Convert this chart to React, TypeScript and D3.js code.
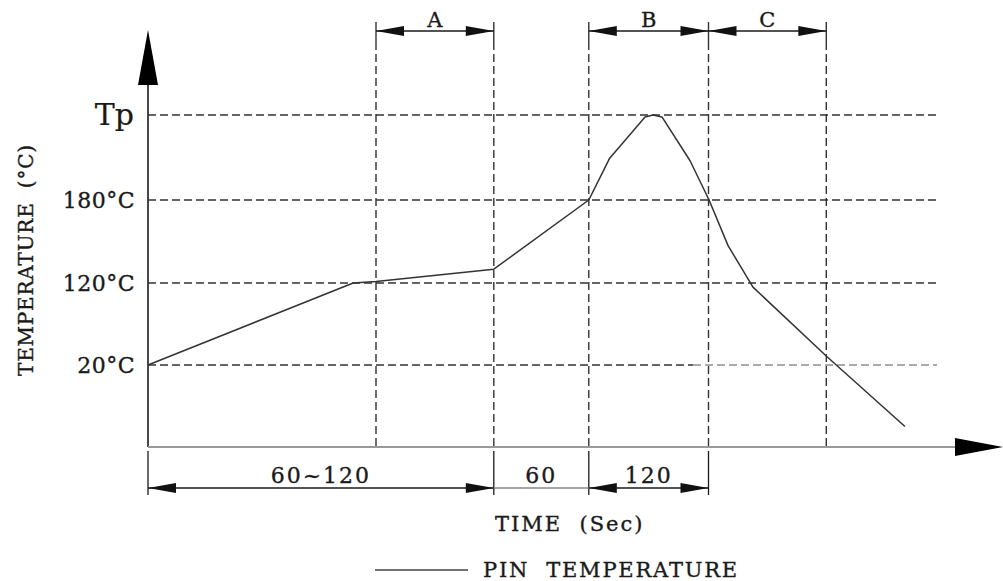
import React from "react";
import * as d3 from "d3";

// schematic time (s) and temperature (°C) of the pin-temperature profile
const profileTime = [0, 108, 120, 182, 232, 243, 261.6, 265.8, 270.5, 285.3, 295.3, 305.3, 318.4, 357.4, 398.4];
const profileTemp = [20, 120, 121, 130, 180, 212, 243.5, 245, 243.5, 210, 180, 147, 115, 30, 5];

// temperature levels shown on the y axis
const tempTicks = [20, 120, 180, 245];
const tempLabels = ["20°C", "120°C", "180°C", "Tp"];

// phase boundaries along the time axis
const markerTimes = [0, 120, 182, 232, 295, 357];

// top dimension brackets: [startMarker, endMarker, label]
const topSpans: [number, number, string][] = [
  [1, 2, "A"],
  [3, 4, "B"],
  [4, 5, "C"],
];
// bottom dimension brackets: [startMarker, endMarker, label, arrows]
const bottomSpans: [number, number, string, boolean][] = [
  [0, 2, "60~120", true],
  [2, 3, "60", false],
  [3, 4, "120", true],
];

const W = 1003;
const H = 581;
const FONT = "'DejaVu Serif', serif";

export default function App() {
  const x = d3.scaleLinear().domain([0, 450]).range([148, 1003]);
  const y = d3.scaleLinear().domain([0, 20, 120, 180, 245]).range([447, 365, 283, 200, 115]);

  const x0 = x(0);
  const y0 = y(0);
  const gridEnd = 937;
  const greyStart = 693;
  const topY = 31;
  const botY = 488;

  const line = d3
    .line<number>()
    .x((_, i) => x(profileTime[i]))
    .y((d) => y(d))
    .curve(d3.curveLinear);

  const arrow = (tipX: number, yy: number, dir: number, len = 28, half = 5) =>
    `M${tipX},${yy}L${tipX - dir * len},${yy - half}L${tipX - dir * len},${yy + half}Z`;

  const ink = "#1a1a1a";
  const dash = "8,4";
  const textStyle = { stroke: ink, strokeWidth: 0.35, whiteSpace: "pre" as const };

  return (
    <svg width={W} height={H} style={{ position: "absolute", left: 0, top: 0, background: "#fff" }}>
      <rect width={W} height={H} fill="#fff" />
      {/* horizontal dashed grid */}
      {tempTicks.map((t, i) =>
        t === 20 ? (
          <g key={i}>
            <line x1={x0} x2={greyStart} y1={y(t)} y2={y(t)} stroke="#333" strokeWidth={1.5} strokeDasharray={dash} />
            <line x1={greyStart} x2={gridEnd} y1={y(t)} y2={y(t)} stroke="#aaa" strokeWidth={1.8} strokeDasharray={dash} />
          </g>
        ) : (
          <line key={i} x1={x0} x2={gridEnd} y1={y(t)} y2={y(t)} stroke="#333" strokeWidth={1.5} strokeDasharray={dash} />
        )
      )}
      {/* vertical dashed markers */}
      {markerTimes.slice(1).map((m, i) => (
        <g key={i}>
          <line x1={x(m)} x2={x(m)} y1={22} y2={42} stroke="#333" strokeWidth={1.4} />
          <line x1={x(m)} x2={x(m)} y1={42} y2={y0} stroke="#333" strokeWidth={1.4} strokeDasharray={dash} />
        </g>
      ))}
      {/* top brackets */}
      {topSpans.map(([a, b, lab], i) => {
        const xa = x(markerTimes[a]);
        const xb = x(markerTimes[b]);
        return (
          <g key={i}>
            <line x1={xa} x2={xb} y1={topY} y2={topY} stroke={ink} strokeWidth={1.3} />
            <path d={arrow(xa, topY, -1)} fill="#111" />
            <path d={arrow(xb, topY, 1)} fill="#111" />
            <text x={(xa + xb) / 2} y={27} textAnchor="middle" fontFamily={FONT} fontSize={21} fill={ink} style={textStyle}>
              {lab}
            </text>
          </g>
        );
      })}
      {/* axes */}
      <line x1={x0} x2={x0} y1={80} y2={y0} stroke="#333" strokeWidth={1.8} />
      <path d={`M${x0},30L${x0 - 10},85L${x0 + 10},85Z`} fill="#000" />
      <line x1={x0} x2={956} y1={y0} y2={y0} stroke="#999" strokeWidth={2.2} />
      <path d={`M1003,${y0}L955,${y0 - 9}L955,${y0 + 9}Z`} fill="#000" />
      {/* profile curve */}
      <path d={line(profileTemp) || ""} fill="none" stroke="#333" strokeWidth={1.5} strokeLinejoin="round" />
      {/* y tick labels */}
      {tempTicks.map((t, i) =>
        tempLabels[i] === "Tp" ? (
          <text key={i} x={134} y={y(t) + 10} textAnchor="end" fontFamily={FONT} fontSize={30} fill={ink} style={{ ...textStyle, strokeWidth: 0.2 }}>
            {tempLabels[i]}
          </text>
        ) : (
          <text key={i} x={135} y={y(t) + 8} textAnchor="end" fontFamily={FONT} fontSize={22} letterSpacing={0.5} fill={ink} style={textStyle}>
            {tempLabels[i]}
          </text>
        )
      )}
      {/* y axis title */}
      <text
        transform={`translate(33,${260}) rotate(-90)`}
        textAnchor="middle"
        fontFamily={FONT}
        fontSize={20}
        letterSpacing={0.8}
        fill={ink}
        style={textStyle}
      >
        {"TEMPERATURE  (°C)"}
      </text>
      {/* bottom dimension lines */}
      {[0, 2, 3, 4].map((mi) => (
        <line key={mi} x1={x(markerTimes[mi])} x2={x(markerTimes[mi])} y1={451} y2={495} stroke={ink} strokeWidth={1.3} />
      ))}
      {bottomSpans.map(([a, b, lab, arrows], i) => {
        const xa = x(markerTimes[a]);
        const xb = x(markerTimes[b]);
        return (
          <g key={i}>
            <line x1={xa} x2={xb} y1={botY} y2={botY} stroke={arrows ? ink : "#888"} strokeWidth={1.3} />
            {arrows && <path d={arrow(xa, botY, -1)} fill="#111" />}
            {arrows && <path d={arrow(xb, botY, 1)} fill="#111" />}
            <text x={(xa + xb) / 2} y={483} textAnchor="middle" fontFamily={FONT} fontSize={22} letterSpacing={2} fill={ink} style={textStyle}>
              {lab}
            </text>
          </g>
        );
      })}
      {/* x axis title */}
      <text x={495} y={531} fontFamily={FONT} fontSize={21} letterSpacing={2} fill={ink} style={textStyle}>
        {"TIME  (Sec)"}
      </text>
      {/* legend */}
      <line x1={375} x2={468} y1={570} y2={570} stroke="#444" strokeWidth={1.3} />
      <text x={483} y={577} fontFamily={FONT} fontSize={21} letterSpacing={1.8} fill={ink} style={textStyle}>
        {"PIN  TEMPERATURE"}
      </text>
    </svg>
  );
}
